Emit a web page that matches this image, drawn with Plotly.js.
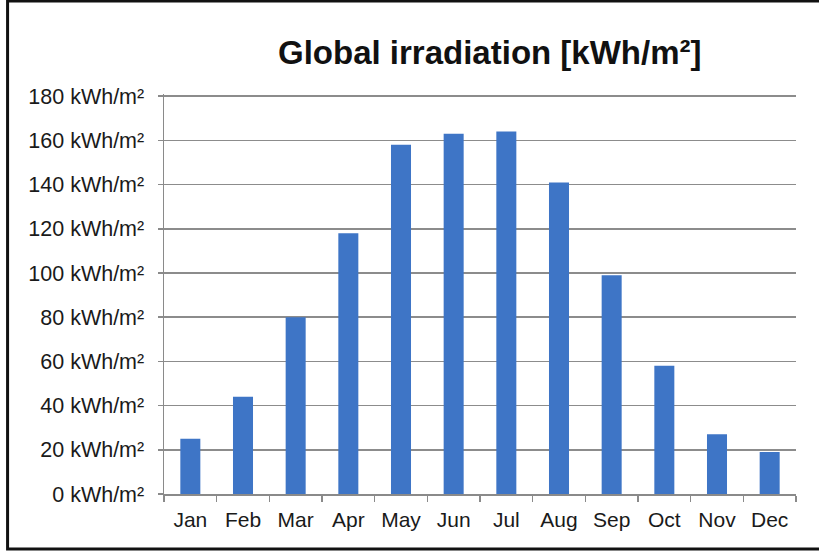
<!DOCTYPE html>
<html>
<head>
<meta charset="utf-8">
<script src="https://cdn.plot.ly/plotly-3.0.1.min.js"></script>
<style>
  html, body { margin: 0; padding: 0; background: #ffffff; }
  #chart { width: 819px; height: 553px; }
</style>
</head>
<body>
<div id="chart"></div>
<script>
// Monthly global irradiation
const months = ['Jan', 'Feb', 'Mar', 'Apr', 'May', 'Jun', 'Jul', 'Aug', 'Sep', 'Oct', 'Nov', 'Dec'];
const irradiation = [25, 44, 80, 118, 158, 163, 164, 141, 99, 58, 27, 19];
const yTicks = [0, 20, 40, 60, 80, 100, 120, 140, 160, 180];
const yTickLabels = yTicks.map(v => v + ' kWh/m²');

const font = 'Liberation Sans, Arial, sans-serif';

const trace = {
  type: 'bar',
  x: months,
  y: irradiation,
  marker: { color: '#3E75C6', line: { width: 0 } },
  hoverinfo: 'x+y'
};

const layout = {
  width: 819,
  height: 553,
  margin: { l: 164, r: 23, t: 94, b: 59 },
  paper_bgcolor: '#ffffff',
  plot_bgcolor: '#ffffff',
  bargap: 0.62,
  showlegend: false,
  font: { family: font, size: 21, color: '#1a1a1a' },
  title: {
    text: '<b>Global irradiation [kWh/m²]</b>',
    font: { family: font, size: 33, color: '#111111' },
    xref: 'container', x: 0.598, xanchor: 'center',
    yref: 'container', y: 0.905, yanchor: 'middle'
  },
  xaxis: {
    type: 'category',
    showgrid: false,
    showline: true,
    linecolor: '#8a8a8a',
    linewidth: 1.5,
    ticks: 'outside',
    tickson: 'boundaries',
    ticklen: 6,
    tickcolor: '#8a8a8a',
    tickwidth: 1.5,
    ticklabelstandoff: 6,
    tickfont: { family: font, size: 21, color: '#1a1a1a' },
    fixedrange: true
  },
  yaxis: {
    // slightly above 180 so the top gridline stays clear of the plot edge
    range: [0, 181],
    tickvals: yTicks,
    ticktext: yTickLabels,
    showgrid: true,
    gridcolor: '#8c8c8c',
    gridwidth: 1.5,
    zeroline: false,
    showline: true,
    linecolor: '#8a8a8a',
    linewidth: 1.5,
    ticks: 'outside',
    ticklen: 5,
    tickcolor: '#8a8a8a',
    tickwidth: 1.5,
    ticklabelstandoff: 9,
    tickfont: { family: font, size: 21.5, color: '#1a1a1a' },
    fixedrange: true
  },
  shapes: [{
    type: 'rect',
    xref: 'paper', yref: 'paper',
    x0: -0.2475, x1: 1.1,
    y0: -0.1375, y1: 1.2325,
    line: { color: '#111111', width: 3 },
    fillcolor: 'rgba(0,0,0,0)',
    layer: 'above'
  }]
};

Plotly.newPlot('chart', [trace], layout, { displayModeBar: false, staticPlot: true });
</script>
</body>
</html>
